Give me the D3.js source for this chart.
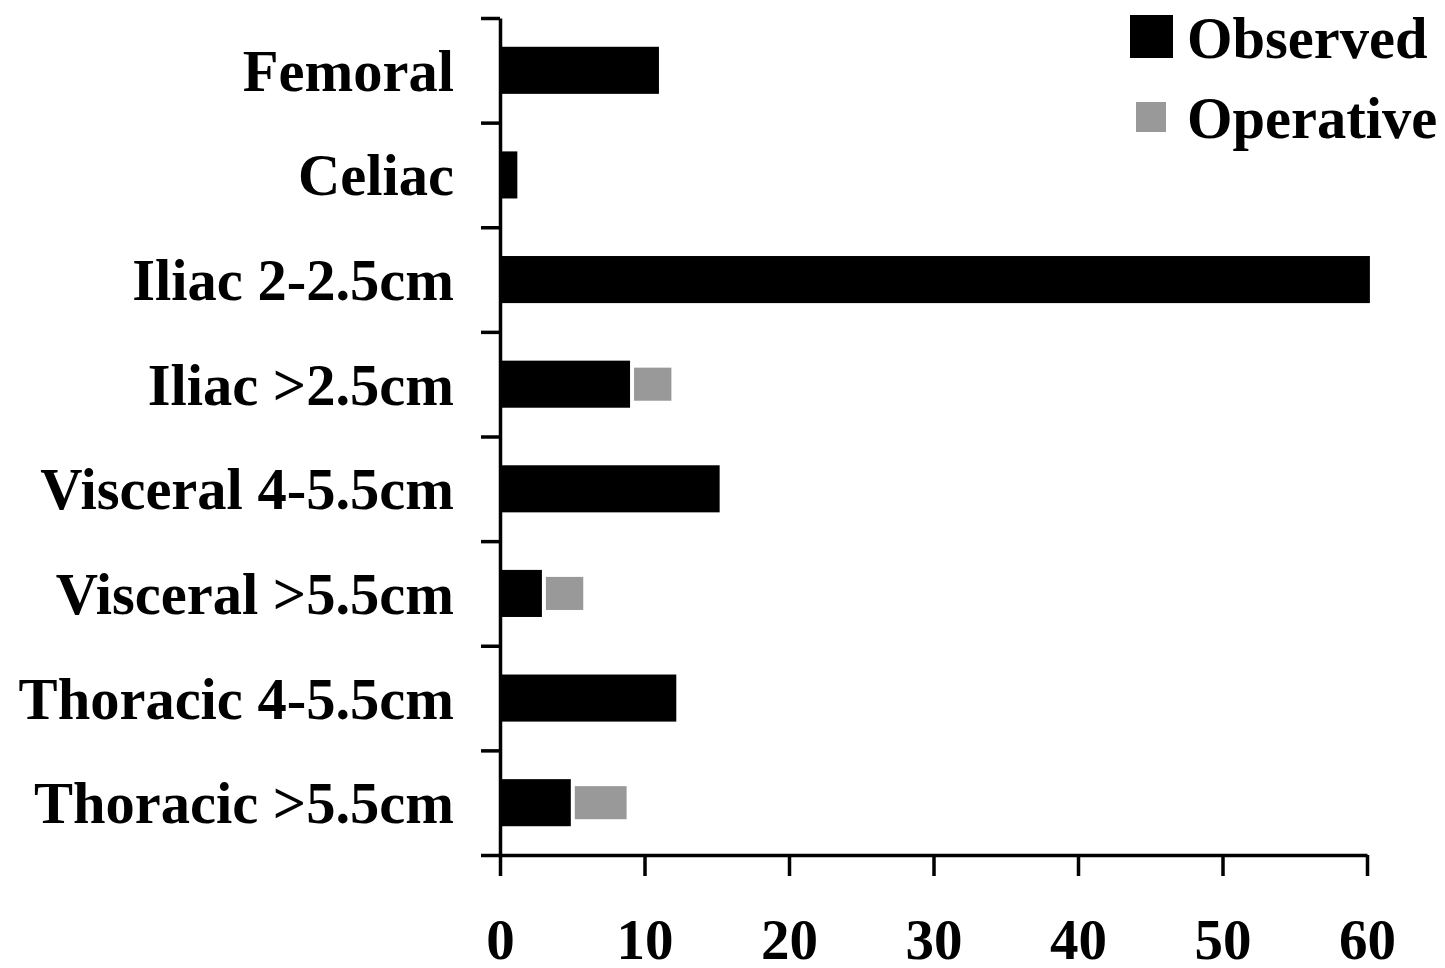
<!DOCTYPE html>
<html>
<head>
<meta charset="utf-8">
<script src="https://cdn.jsdelivr.net/npm/d3@7"></script>
<style>
  body { margin: 0; background: #fff; }
  text { font-family: "Liberation Serif", "Times New Roman", serif; font-weight: bold; }
</style>
</head>
<body>
<div id="chart-area"></div>
<script>
// data
var categories = ["Femoral", "Celiac", "Iliac 2-2.5cm", "Iliac >2.5cm",
    "Visceral 4-5.5cm", "Visceral >5.5cm", "Thoracic 4-5.5cm", "Thoracic >5.5cm"];
var observed  = [11, 1.2, 60.2, 9, 15.2, 2.9, 12.2, 4.9];
var operative = [0, 0, 0, 3, 0, 3, 0, 4];
var xTicks = [0, 10, 20, 30, 40, 50, 60];
var seriesNames = ["Observed", "Operative"];
var colors = ["#000000", "#999999"];

var W = 1445, H = 968;
var margin = { left: 500, right: 78, top: 18, bottom: 113 };
var width = W - margin.left - margin.right,
    height = H - margin.top - margin.bottom;

var svg = d3.select("#chart-area")
    .append("svg")
        .attr("width", W)
        .attr("height", H);

var g = svg.append("g")
    .attr("transform", "translate(" + margin.left + "," + margin.top + ")");

var rows = categories.map(function(c, i) {
    return { cat: c, obs: observed[i], op: operative[i] };
});

// scales
var x = d3.scaleLinear().domain([0, 60]).range([0, width]);
var y = d3.scaleBand().domain(categories).range([0, height])
    .paddingInner(0.55)
    .paddingOuter(0.275);
var yIdx = d3.scaleLinear().domain([0, categories.length]).range([0, height]);

// bars - observed
g.selectAll("rect.obs")
    .data(rows)
    .enter().append("rect")
        .attr("class", "obs")
        .attr("x", x(0))
        .attr("y", function(d) { return y(d.cat); })
        .attr("width", function(d) { return x(d.obs) - x(0); })
        .attr("height", y.bandwidth())
        .attr("fill", colors[0]);

// bars - operative (stacked, drawn inset like the original)
g.selectAll("rect.op")
    .data(rows.filter(function(d) { return d.op > 0; }))
    .enter().append("rect")
        .attr("class", "op")
        .attr("x", function(d) { return x(d.obs) + 4; })
        .attr("y", function(d) { return y(d.cat) + 7; })
        .attr("width", function(d) { return x(d.obs + d.op) - x(d.obs) - 6; })
        .attr("height", y.bandwidth() - 14)
        .attr("fill", colors[1]);

// Y axis: ticks between categories
var yAxis = g.append("g")
    .call(d3.axisLeft(yIdx)
        .tickValues(d3.range(categories.length + 1))
        .tickFormat("")
        .tickSize(19)
        .tickSizeOuter(0));
yAxis.selectAll("path, line").attr("stroke", "#000").attr("stroke-width", 3.5);

// category labels
g.selectAll("text.cat")
    .data(categories)
    .enter().append("text")
        .attr("class", "cat")
        .attr("x", -46)
        .attr("y", function(d) { return y(d) + y.bandwidth() / 2; })
        .attr("dy", "0.35em")
        .attr("text-anchor", "end")
        .attr("font-size", "58.5px")
        .attr("fill", "#000")
        .text(function(d) { return d; });

// X axis
var xAxis = g.append("g")
    .attr("transform", "translate(0," + height + ")")
    .call(d3.axisBottom(x)
        .tickValues(xTicks)
        .tickSize(21)
        .tickSizeOuter(0)
        .tickPadding(43));
xAxis.selectAll("path, line").attr("stroke", "#000").attr("stroke-width", 3.5);
xAxis.selectAll("text")
    .attr("font-size", "57px")
    .attr("fill", "#000")
    .style("font-family", "'Liberation Serif', 'Times New Roman', serif")
    .style("font-weight", "bold");

// legend
var legend = svg.append("g");
legend.append("rect")
    .attr("x", 1130).attr("y", 15)
    .attr("width", 43).attr("height", 43)
    .attr("fill", colors[0]);
legend.append("rect")
    .attr("x", 1136).attr("y", 102)
    .attr("width", 30).attr("height", 30)
    .attr("fill", colors[1]);
legend.selectAll("text")
    .data(seriesNames)
    .enter().append("text")
        .attr("x", 1187)
        .attr("y", function(d, i) { return i === 0 ? 58 : 138; })
        .attr("font-size", "58.5px")
        .attr("fill", "#000")
        .text(function(d) { return d; });
</script>
</body>
</html>
